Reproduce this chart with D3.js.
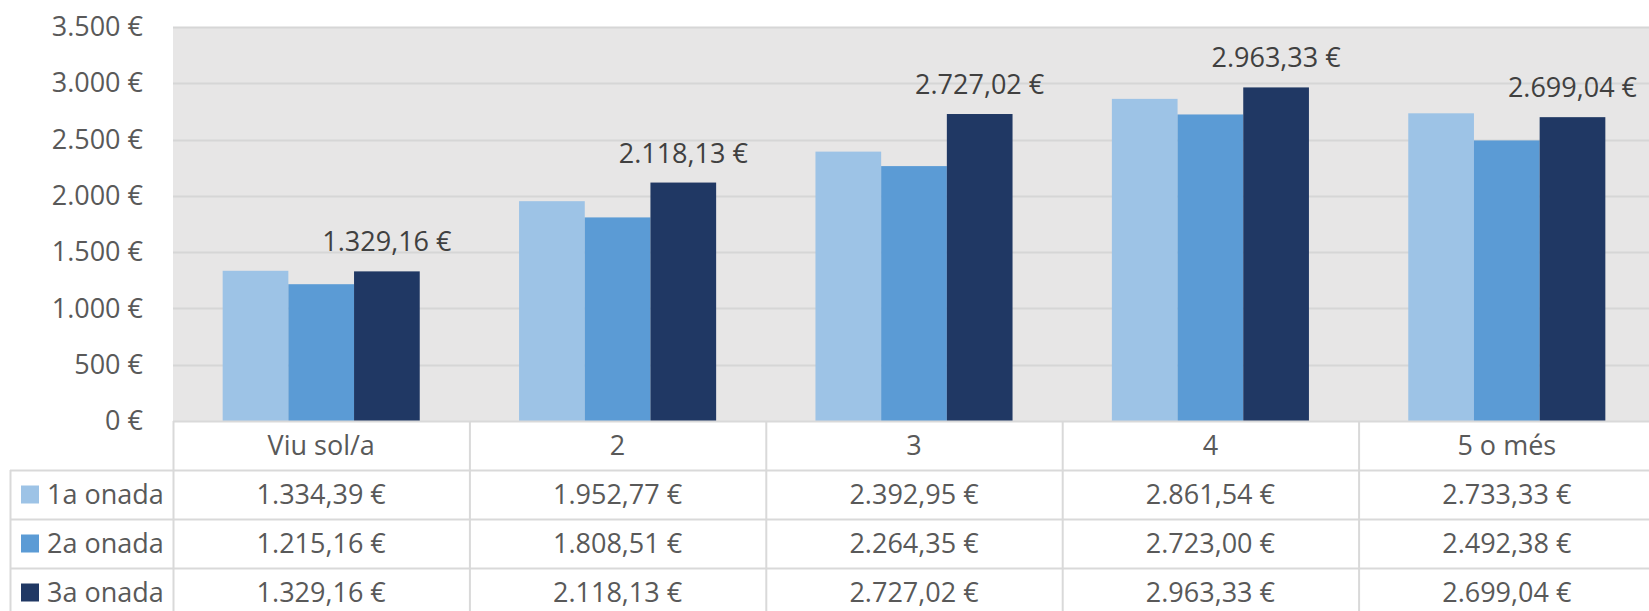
<!DOCTYPE html>
<html>
<head>
<meta charset="utf-8">
<script src="https://cdn.jsdelivr.net/npm/d3@7"></script>
<style>
  html, body { margin: 0; padding: 0; background: #ffffff; }
  svg { display: block; }
  text { font-family: "Open Sans", "Noto Sans", sans-serif; }
</style>
</head>
<body>
<svg id="chart" width="1649" height="611"></svg>
<script>
// ---- data ----
const categories = ["Viu sol/a", "2", "3", "4", "5 o més"];
const seriesNames = ["1a onada", "2a onada", "3a onada"];
const wave1 = [1334.39, 1952.77, 2392.95, 2861.54, 2733.33];
const wave2 = [1215.16, 1808.51, 2264.35, 2723.00, 2492.38];
const wave3 = [1329.16, 2118.13, 2727.02, 2963.33, 2699.04];
const yTicks = [0, 500, 1000, 1500, 2000, 2500, 3000, 3500];
const labelledSeries = "3a onada";

const seriesValues = [wave1, wave2, wave3];
const colors = ["#9DC3E6", "#5B9BD5", "#203864"];

const W = 1649, H = 611;
const plot = { left: 173, right: 1655, top: 27, bottom: 421 };
const FS = "27px";

const locale = d3.formatLocale({
  decimal: ",", thousands: ".", grouping: [3], currency: ["", "\u00a0€"]
});
const fmtMoney = locale.format("$,.2f");
const fmtTick = locale.format("$,.0f");

const svg = d3.select("#chart");

const x0 = d3.scaleBand().domain(categories).range([plot.left, plot.right]).paddingInner(0).paddingOuter(0);
const x1 = d3.scaleBand().domain(seriesNames).range([0, x0.bandwidth()]).paddingInner(0).paddingOuter(0.756);
const y = d3.scaleLinear().domain([0, 3500]).range([plot.bottom, plot.top]);

// plot background
svg.append("rect")
  .attr("x", plot.left).attr("y", plot.top)
  .attr("width", plot.right - plot.left).attr("height", plot.bottom - plot.top)
  .attr("fill", "#E7E6E6");

// gridlines
svg.append("g").selectAll("line").data(yTicks.filter(d => d > 0)).join("line")
  .attr("x1", plot.left).attr("x2", plot.right)
  .attr("y1", d => Math.round(y(d)) + 0.5).attr("y2", d => Math.round(y(d)) + 0.5)
  .attr("stroke", "#D6D6D6").attr("stroke-width", 2);

// y axis
const yAxis = d3.axisLeft(y).tickValues(yTicks).tickFormat(fmtTick).tickSize(0).tickPadding(0);
const gy = svg.append("g").attr("transform", `translate(143,0)`).call(yAxis);
gy.select(".domain").remove();
gy.selectAll("text")
  .attr("fill", "#595959")
  .style("font-size", FS)
  .style("font-family", "'Open Sans', 'Noto Sans', sans-serif");

// bars
const groups = svg.append("g").selectAll("g").data(categories).join("g")
  .attr("transform", d => `translate(${x0(d)},0)`);

groups.selectAll("rect")
  .data((c, ci) => seriesNames.map((s, si) => ({ s, si, v: seriesValues[si][ci] })))
  .join("rect")
  .attr("x", d => x1(d.s))
  .attr("y", d => y(d.v))
  .attr("width", x1.bandwidth())
  .attr("height", d => y(0) - y(d.v))
  .attr("fill", d => colors[d.si]);

// data labels (3a onada only)
const li = seriesNames.indexOf(labelledSeries);
svg.append("g").selectAll("text").data(categories).join("text")
  .attr("x", (c) => x0(c) + x1(labelledSeries) + x1.bandwidth() / 2)
  .attr("y", (c, ci) => y(seriesValues[li][ci]) - 20)
  .attr("text-anchor", "middle")
  .attr("fill", "#404040")
  .style("font-size", FS)
  .text((c, ci) => fmtMoney(seriesValues[li][ci]));

// ---- data table ----
const rowKeys = ["header"].concat(seriesNames);
const rowY = d3.scaleBand().domain(rowKeys).range([plot.bottom, plot.bottom + 49 * rowKeys.length]);
const tableLeft = 10;
const border = "#D9D9D9";
const tbl = svg.append("g");

// horizontal lines
tbl.append("line")
  .attr("x1", plot.left).attr("x2", W)
  .attr("y1", plot.bottom + 0.5).attr("y2", plot.bottom + 0.5)
  .attr("stroke", border).attr("stroke-width", 2);
tbl.selectAll("line.h").data(seriesNames).join("line").attr("class", "h")
  .attr("x1", tableLeft).attr("x2", W)
  .attr("y1", d => rowY(d) + 0.5).attr("y2", d => rowY(d) + 0.5)
  .attr("stroke", border).attr("stroke-width", 2);

// vertical lines
tbl.selectAll("line.v").data(categories).join("line").attr("class", "v")
  .attr("x1", d => x0(d) + 0.5).attr("x2", d => x0(d) + 0.5)
  .attr("y1", plot.bottom).attr("y2", H)
  .attr("stroke", border).attr("stroke-width", 2);
tbl.append("line")
  .attr("x1", tableLeft + 0.5).attr("x2", tableLeft + 0.5)
  .attr("y1", rowY(seriesNames[0])).attr("y2", H)
  .attr("stroke", border).attr("stroke-width", 2);

// header labels
tbl.selectAll("text.cat").data(categories).join("text").attr("class", "cat")
  .attr("x", d => x0(d) + x0.bandwidth() / 2)
  .attr("y", rowY("header") + rowY.bandwidth() / 2)
  .attr("dy", "0.35em")
  .attr("text-anchor", "middle")
  .attr("fill", "#595959")
  .style("font-size", FS)
  .text(d => d);

// legend keys + names
const rows = tbl.selectAll("g.row").data(seriesNames).join("g").attr("class", "row")
  .attr("transform", d => `translate(0,${rowY(d)})`);
rows.append("rect")
  .attr("x", 21).attr("y", rowY.bandwidth() / 2 - 9)
  .attr("width", 18).attr("height", 18)
  .attr("fill", (d, i) => colors[i]);
rows.append("text")
  .attr("x", 47).attr("y", rowY.bandwidth() / 2).attr("dy", "0.35em")
  .attr("fill", "#595959")
  .style("font-size", FS)
  .text(d => d);
rows.selectAll("text.val")
  .data((s, si) => categories.map((c, ci) => ({ c, v: seriesValues[si][ci] })))
  .join("text").attr("class", "val")
  .attr("x", d => x0(d.c) + x0.bandwidth() / 2)
  .attr("y", rowY.bandwidth() / 2).attr("dy", "0.35em")
  .attr("text-anchor", "middle")
  .attr("fill", "#595959")
  .style("font-size", FS)
  .text(d => fmtMoney(d.v));
</script>
</body>
</html>
